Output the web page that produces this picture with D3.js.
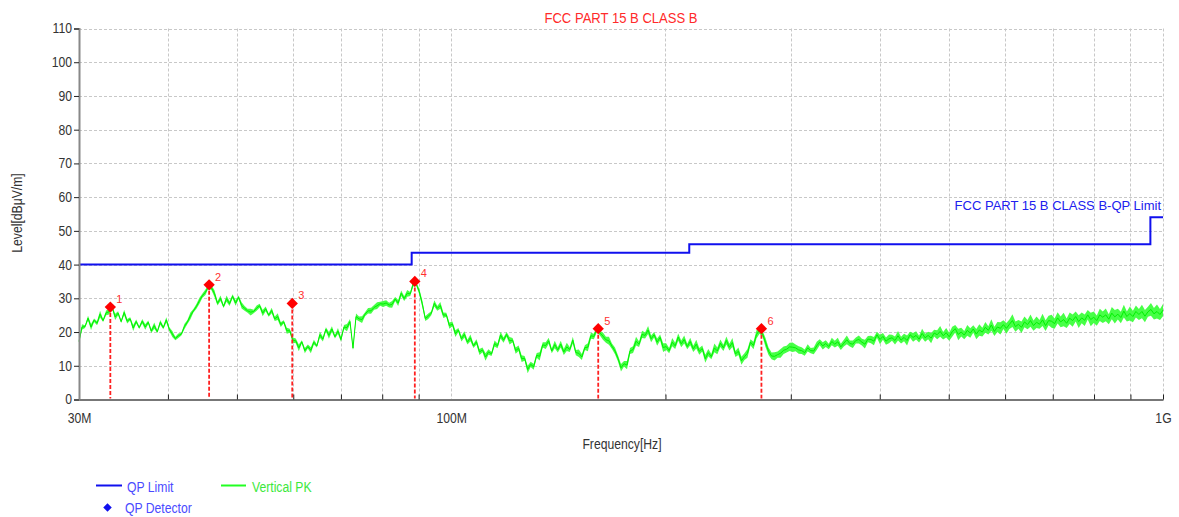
<!DOCTYPE html>
<html>
<head>
<meta charset="utf-8">
<script src="https://cdn.jsdelivr.net/npm/d3@7"></script>
<style>
  html, body { margin: 0; padding: 0; background: #fff; }
  svg { display: block; font-family: "Liberation Sans", Arial, sans-serif; }
</style>
</head>
<body>
<svg id="chart" width="1179" height="517"></svg>
<script>
// ---------------- DATA ----------------
const chartTitle = "FCC PART 15 B CLASS B";
const limitName = "FCC PART 15 B CLASS B-QP Limit";

// QP limit (MHz, dBμV/m)
const limitFreqs  = [30, 88, 88, 216, 216, 960, 960, 1000];
const limitLevels = [40, 40, 43.5, 43.5, 46, 46, 54, 54];

// QP detector markers
const markerIds    = ["1", "2", "3", "4", "5", "6"];
const markerFreqs  = [33.2, 45.7, 59.8, 88.9, 160.9, 272.8];
const markerLevels = [27.4, 34.0, 28.5, 35.0, 21.0, 21.0];

// Vertical PK sweep: 30 MHz - 1 GHz, log-spaced sweep points
const sweepStartMHz = 30, sweepStopMHz = 1000;
// trace level (dBμV/m)
const pkLevels = [
17.2,21.5,21.6,24.1,21.5,23.5,22.6,25.3,23.4,25.7,26.0,27.4,24.5,25.6,23.1,25.8,23.2,23.9,21.2,23.1,
21.3,23.2,21.5,22.9,20.3,21.9,20.1,22.9,21.3,23.6,20.8,19.4,18.1,18.9,19.4,21.6,23.0,24.8,26.3,27.6,
29.3,30.8,31.8,33.5,33.1,31.4,28.5,30.0,27.6,29.9,28.4,30.6,28.6,30.3,27.9,27.0,26.3,25.9,26.1,27.1,
27.8,25.6,26.9,25.0,26.4,23.9,24.6,22.2,23.0,20.4,20.4,17.6,17.4,15.3,17.1,14.5,15.7,14.6,17.0,15.9,
19.2,17.9,20.8,19.0,20.9,18.6,20.3,17.8,21.5,21.3,23.1,15.2,24.6,23.9,23.7,25.3,26.3,26.3,27.3,27.8,
28.4,28.3,28.6,28.0,28.2,29.8,28.6,31.5,29.9,31.5,31.3,34.3,34.2,32.0,28.4,24.0,24.7,25.6,28.5,27.0,
27.9,25.0,25.1,21.9,22.4,19.5,20.6,18.0,19.3,17.0,18.3,15.9,17.1,14.1,14.7,12.6,14.1,13.5,16.6,15.9,
19.1,17.6,19.3,17.4,17.6,14.5,15.2,12.1,12.2,8.9,10.4,9.7,13.1,12.8,16.2,16.0,17.4,14.4,16.3,14.7,
16.4,14.1,15.6,14.8,17.6,13.9,13.7,12.6,15.4,15.5,18.9,18.7,21.0,19.7,18.8,17.7,17.4,15.8,14.4,12.2,
9.4,10.6,10.2,14.4,14.8,17.3,16.4,19.3,19.0,20.6,18.0,19.2,17.0,18.4,15.4,15.7,14.5,17.0,15.9,18.5,
16.5,17.8,15.7,17.2,15.0,16.4,14.3,15.1,12.1,13.9,12.7,15.3,14.4,16.7,15.3,17.5,15.5,16.9,13.5,14.3,
11.5,12.7,13.7,17.0,16.0,19.3,20.5,19.5,16.9,14.3,12.9,12.8,13.3,13.7,14.6,14.9,15.6,15.5,15.3,14.7,
14.5,13.9,15.3,14.5,14.4,15.9,17.0,15.9,16.6,15.7,17.2,16.4,17.1,15.6,16.7,17.7,16.6,16.4,17.5,17.8,
17.0,16.4,17.9,17.8,17.3,19.2,17.8,18.7,17.3,18.0,18.3,17.5,18.9,17.6,18.4,17.5,19.2,18.4,19.0,17.9,
19.6,18.3,19.0,18.2,19.7,19.2,20.2,18.9,19.8,18.6,20.1,21.0,19.3,20.0,19.1,20.5,19.7,20.9,19.4,20.6,
20.0,21.4,20.5,22.1,20.2,21.5,21.1,22.2,21.1,22.3,23.4,21.6,22.3,21.4,23.0,22.2,23.4,21.9,22.9,22.3,
23.6,21.9,23.4,23.2,22.5,24.2,23.0,23.7,22.6,24.1,23.4,24.6,23.1,24.2,23.5,25.1,23.7,24.4,23.4,25.1,
24.4,25.1,23.8,25.6,24.5,25.3,24.3,26.2,24.6,25.5,24.6,26.1,25.2,26.1,24.7,26.0,26.7,25.4,26.1,25.2,
26.5
];
// half-width of the noise band around the trace (dB)
const pkSpread = [
0.5,0.8,0.4,0.7,0.9,0.5,0.6,1.0,0.4,0.7,0.8,0.5,0.9,0.6,0.4,0.8,0.7,0.5,0.9,0.6,
0.4,0.7,0.8,0.5,0.6,0.9,0.4,0.7,0.5,0.8,0.6,0.9,0.5,0.7,0.4,0.8,0.6,1.0,0.5,0.7,
0.9,0.6,0.8,0.5,0.7,1.0,0.6,0.8,0.5,0.9,0.7,0.6,0.8,0.5,0.9,0.7,0.6,1.0,0.5,0.8,
0.6,0.9,0.7,0.5,0.8,0.6,1.0,0.7,0.5,0.9,0.6,0.8,0.7,1.0,0.5,0.8,0.6,0.9,0.7,0.5,
0.9,0.7,0.6,1.0,0.8,0.5,0.9,0.7,0.6,1.1,0.8,0.6,0.9,0.7,1.0,0.6,0.8,0.9,0.7,1.0,
0.6,0.9,0.8,0.7,1.0,0.6,0.9,0.8,0.7,1.0,0.6,0.8,0.5,0.9,1.0,0.7,0.8,0.6,0.9,0.7,
1.0,0.8,0.6,0.9,0.7,1.0,0.6,0.8,0.9,0.7,1.0,0.6,0.8,0.9,0.7,1.1,0.8,0.6,0.9,0.7,
1.0,0.8,0.7,1.1,0.6,0.9,0.8,1.0,0.7,1.1,0.8,0.9,0.7,1.2,0.8,1.0,0.9,0.7,1.1,0.8,
1.0,0.9,1.2,0.7,1.0,0.8,1.1,0.9,0.7,1.2,0.9,0.8,1.0,0.7,1.1,0.9,1.2,0.8,1.0,0.9,
1.1,0.8,1.2,0.9,1.0,1.3,0.8,1.1,0.9,1.2,1.0,0.8,1.1,0.9,1.3,1.0,0.8,1.2,0.9,1.1,
1.0,1.2,0.8,1.1,0.9,1.3,1.0,0.9,1.2,1.1,0.8,1.3,1.0,1.1,0.9,1.2,1.0,1.3,0.9,1.1,
1.2,1.0,1.3,0.9,1.1,1.2,1.0,0.9,1.3,1.1,1.0,1.2,0.9,1.3,1.1,1.0,1.2,1.4,1.0,1.1,
1.0,0.9,1.1,0.8,1.0,1.2,0.9,1.1,1.0,0.8,1.1,1.0,1.2,0.9,1.0,1.3,0.9,1.1,0.9,1.2,
1.0,1.3,0.9,1.1,1.2,0.9,1.4,1.0,1.1,1.3,0.9,1.2,1.4,1.0,1.1,1.5,0.9,1.3,1.2,1.0,
1.4,1.2,1.1,1.5,1.0,1.3,1.6,1.1,1.4,1.2,1.5,1.1,1.7,1.3,1.2,1.6,1.4,1.1,1.5,1.7,
1.3,1.6,1.2,1.7,1.4,1.5,1.8,1.3,1.6,1.4,1.9,1.5,1.3,1.7,1.6,1.4,1.8,1.5,1.7,1.3,
1.8,1.6,1.4,1.9,1.5,1.7,1.6,2.0,1.4,1.7,1.8,1.5,1.9,1.6,1.7,1.4,2.0,1.7,1.5,1.8,
1.7,1.9,1.5,1.8,2.0,1.6,1.7,1.9,1.5,2.1,1.7,1.8,1.6,2.0,1.8,1.5,1.9,1.7,2.1,1.6,
1.8
];

const yTicks = [0,10,20,30,40,50,60,70,80,90,100,110];
const xLabelTicks = [30, 100, 1000];
const xLabelText  = ["30M", "100M", "1G"];
const xMinorTicks = [40,50,60,70,80,90,200,300,400,500,600,700,800,900];

// ---------------- LAYOUT ----------------
const plotL = 79, plotR = 1163, plotT = 28.5, plotB = 399.5;
const FONT = 14, SQUEEZE = 0.87;

const svg = d3.select("#chart");
const x = d3.scaleLog().domain([sweepStartMHz, sweepStopMHz]).range([plotL, plotR]);
const y = d3.scaleLinear().domain([0, 110]).range([plotB, plotT]);

function squeeze(sel, k) {
  sel.each(function () {
    const L = this.getComputedTextLength();
    if (L > 0) {
      this.setAttribute("textLength", (L * k).toFixed(2));
      this.setAttribute("lengthAdjust", "spacingAndGlyphs");
    }
  });
}

// grid
const grid = svg.append("g").attr("stroke", "#c8c8c8").attr("stroke-width", 1).attr("stroke-dasharray", "3,2");
grid.selectAll("line.h").data(yTicks.filter(d => d > 0)).join("line").attr("class", "h")
  .attr("x1", plotL).attr("x2", plotR)
  .attr("y1", d => Math.round(y(d)) + 0.5).attr("y2", d => Math.round(y(d)) + 0.5);
grid.selectAll("line.v").data(xMinorTicks.concat([100, 1000])).join("line").attr("class", "v")
  .attr("x1", d => Math.round(x(d)) + 0.5).attr("x2", d => Math.round(x(d)) + 0.5)
  .attr("y1", plotT).attr("y2", plotB);

// PK trace
const sweepFreqs = pkLevels.map((_, i) =>
  sweepStartMHz * Math.pow(sweepStopMHz / sweepStartMHz, i / (pkLevels.length - 1)));
const pk = pkLevels.map((v, i) => ({ f: sweepFreqs[i], v: v, s: pkSpread[i] }));
const pkArea = d3.area().x(d => x(d.f)).y0(d => y(d.v - d.s)).y1(d => y(d.v + d.s));
svg.append("path").datum(pk).attr("d", pkArea)
  .attr("fill", "#33ff33").attr("fill-opacity", 0.9);
const pkLine = d3.line().x(d => x(d.f)).y(d => y(d.v));
svg.append("path").datum(pk)
  .attr("d", pkLine).attr("fill", "none")
  .attr("stroke", "#00f000").attr("stroke-width", 1).attr("stroke-linejoin", "round");

// limit line
const limLine = d3.line().x((d, i) => x(limitFreqs[i])).y(d => y(d));
svg.append("path").datum(limitLevels)
  .attr("d", limLine).attr("fill", "none")
  .attr("stroke", "#1010ee").attr("stroke-width", 2);

// axes
const yAxis = svg.append("g").attr("transform", `translate(${plotL},0)`)
  .call(d3.axisLeft(y).tickValues(yTicks).tickSize(5).tickPadding(2));
yAxis.select(".domain").attr("stroke", "#888").attr("stroke-width", 2);
yAxis.selectAll(".tick line").attr("stroke", "#222");
yAxis.selectAll("text").attr("font-size", FONT).attr("fill", "#333")
  .attr("font-family", '"Liberation Sans", Arial, sans-serif');
squeeze(yAxis.selectAll("text"), SQUEEZE);

const xAxis = svg.append("g").attr("transform", `translate(0,${plotB})`)
  .call(d3.axisBottom(x).tickValues(xLabelTicks).tickSize(0).tickPadding(14)
    .tickFormat((d, i) => xLabelText[i]));
xAxis.select(".domain").attr("stroke", "#777").attr("stroke-width", 2);
xAxis.selectAll("text").attr("font-size", FONT).attr("fill", "#333")
  .attr("font-family", '"Liberation Sans", Arial, sans-serif');
squeeze(xAxis.selectAll("text"), SQUEEZE);

const xMinor = svg.append("g").attr("transform", `translate(0,${plotB})`)
  .call(d3.axisBottom(x).tickValues(xMinorTicks.concat([1000])).tickSize(-5).tickFormat(""));
xMinor.select(".domain").remove();
xMinor.selectAll(".tick line").attr("stroke", "#222");

// markers: dashed drop lines, diamonds, labels
const mk = svg.append("g");
mk.selectAll("line").data(markerLevels).join("line")
  .attr("x1", (d, i) => x(markerFreqs[i])).attr("x2", (d, i) => x(markerFreqs[i]))
  .attr("y1", d => y(d)).attr("y2", plotB - 1)
  .attr("stroke", "#ff2020").attr("stroke-width", 1.8).attr("stroke-dasharray", "4,2");
const diamond = d3.symbol().type(d3.symbolSquare).size(64);
mk.selectAll("path").data(markerLevels).join("path")
  .attr("d", diamond())
  .attr("transform", (d, i) => `translate(${x(markerFreqs[i])},${y(d)}) rotate(45)`)
  .attr("fill", "#ff0000");
mk.selectAll("text").data(markerIds).join("text")
  .attr("x", (d, i) => x(markerFreqs[i]) + 6)
  .attr("y", (d, i) => y(markerLevels[i]) - 4)
  .attr("font-size", 11).attr("fill", "#ff3030").text(d => d);

// title
const title = svg.append("text").attr("x", 621).attr("y", 23).attr("text-anchor", "middle")
  .attr("font-size", 15).attr("fill", "#ff2a2a").text(chartTitle);
squeeze(title, SQUEEZE);

// limit label (natural width, no squeezing)
svg.append("text").attr("x", 1161).attr("y", 210).attr("text-anchor", "end")
  .attr("font-size", 13).attr("fill", "#2020ee").text(limitName);

// axis titles
const xt = svg.append("text").attr("x", 622).attr("y", 449).attr("text-anchor", "middle")
  .attr("font-size", FONT).attr("fill", "#333").text("Frequency[Hz]");
squeeze(xt, SQUEEZE);
const yt = svg.append("text").attr("transform", "translate(22,213) rotate(-90)")
  .attr("text-anchor", "middle").attr("font-size", FONT).attr("fill", "#333").text("Level[dBμV/m]");
squeeze(yt, SQUEEZE);

// legend
const lg = svg.append("g");
lg.append("line").attr("x1", 96).attr("x2", 122).attr("y1", 485.5).attr("y2", 485.5)
  .attr("stroke", "#1010ee").attr("stroke-width", 2);
squeeze(lg.append("text").attr("x", 127).attr("y", 491.5).attr("font-size", FONT)
  .attr("fill", "#4a4aff").text("QP Limit"), SQUEEZE);
lg.append("line").attr("x1", 221).attr("x2", 246).attr("y1", 485.5).attr("y2", 485.5)
  .attr("stroke", "#22ff22").attr("stroke-width", 2);
squeeze(lg.append("text").attr("x", 252).attr("y", 491.5).attr("font-size", FONT)
  .attr("fill", "#3be83b").text("Vertical PK"), SQUEEZE);
lg.append("path").attr("d", d3.symbol().type(d3.symbolSquare).size(36)())
  .attr("transform", "translate(107.5,507.5) rotate(45)").attr("fill", "#1010ee");
squeeze(lg.append("text").attr("x", 125).attr("y", 512.5).attr("font-size", FONT)
  .attr("fill", "#4a4aff").text("QP Detector"), SQUEEZE);
</script>
</body>
</html>
